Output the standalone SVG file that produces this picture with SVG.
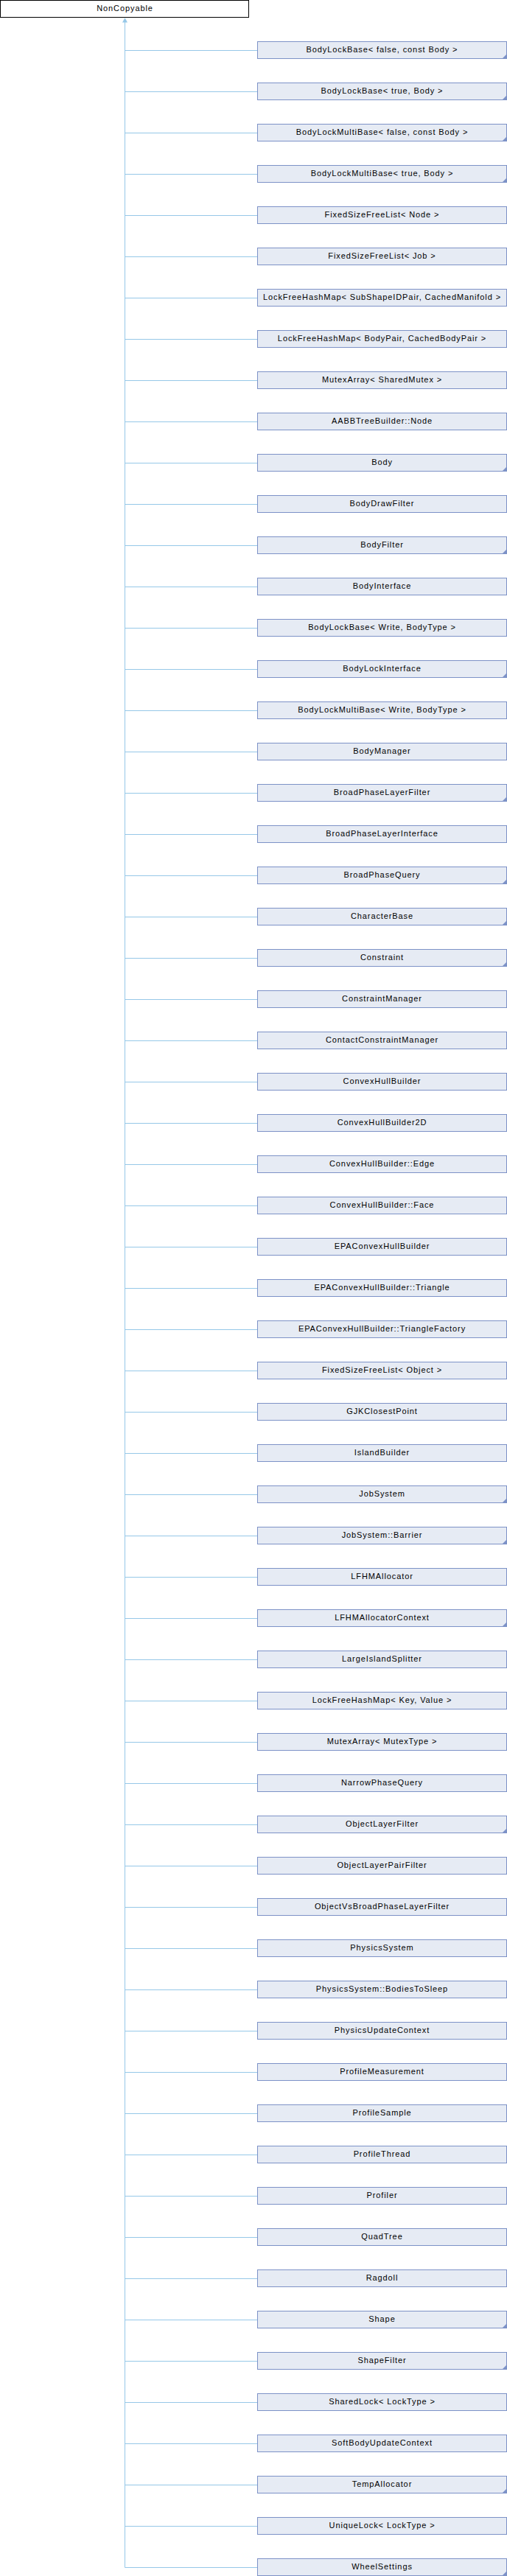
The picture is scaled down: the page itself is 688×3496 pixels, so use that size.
<svg xmlns="http://www.w3.org/2000/svg" width="688" height="3496" viewBox="0 0 688 3496">
<style>
text{font-family:"Liberation Sans",Arial,sans-serif;font-size:11px;letter-spacing:0.9px;fill:#000;text-anchor:middle}
.root{fill:#fff;stroke:#000;stroke-width:1}
.box{fill:#E6EBF4;stroke:#7D92C7;stroke-width:1}
.mark{fill:#7D92C7}
.conn{fill:none;stroke:#96C8E8;stroke-width:1}
.arr{fill:#96C8E8}
</style>
<g id="connectors">
<path class="conn" d="M169.5 30V3484.5M169.5 68.5H349M169.5 124.5H349M169.5 180.5H349M169.5 236.5H349M169.5 292.5H349M169.5 348.5H349M169.5 404.5H349M169.5 460.5H349M169.5 516.5H349M169.5 572.5H349M169.5 628.5H349M169.5 684.5H349M169.5 740.5H349M169.5 796.5H349M169.5 852.5H349M169.5 908.5H349M169.5 964.5H349M169.5 1020.5H349M169.5 1076.5H349M169.5 1132.5H349M169.5 1188.5H349M169.5 1244.5H349M169.5 1300.5H349M169.5 1356.5H349M169.5 1412.5H349M169.5 1468.5H349M169.5 1524.5H349M169.5 1580.5H349M169.5 1636.5H349M169.5 1692.5H349M169.5 1748.5H349M169.5 1804.5H349M169.5 1860.5H349M169.5 1916.5H349M169.5 1972.5H349M169.5 2028.5H349M169.5 2084.5H349M169.5 2140.5H349M169.5 2196.5H349M169.5 2252.5H349M169.5 2308.5H349M169.5 2364.5H349M169.5 2420.5H349M169.5 2476.5H349M169.5 2532.5H349M169.5 2588.5H349M169.5 2644.5H349M169.5 2700.5H349M169.5 2756.5H349M169.5 2812.5H349M169.5 2868.5H349M169.5 2924.5H349M169.5 2980.5H349M169.5 3036.5H349M169.5 3092.5H349M169.5 3148.5H349M169.5 3204.5H349M169.5 3260.5H349M169.5 3316.5H349M169.5 3372.5H349M169.5 3428.5H349M169.5 3484.5H349"/>
<polygon class="arr" points="169.5,24 166,30.5 173,30.5"/>
</g>
<g id="NonCopyable"><rect class="root" x="0.5" y="0.5" width="337" height="23"/><text x="169.5" y="15">NonCopyable</text></g>
<g id="n1" transform="translate(0,56)"><rect class="box" x="349.5" y="0.5" width="338" height="23"/><polygon class="mark" points="681.5,23.5 687.5,23.5 687.5,17.5"/><text x="518.5" y="15">BodyLockBase&lt; false, const Body &gt;</text></g>
<g id="n2" transform="translate(0,112)"><rect class="box" x="349.5" y="0.5" width="338" height="23"/><polygon class="mark" points="681.5,23.5 687.5,23.5 687.5,17.5"/><text x="518.5" y="15">BodyLockBase&lt; true, Body &gt;</text></g>
<g id="n3" transform="translate(0,168)"><rect class="box" x="349.5" y="0.5" width="338" height="23"/><polygon class="mark" points="681.5,23.5 687.5,23.5 687.5,17.5"/><text x="518.5" y="15">BodyLockMultiBase&lt; false, const Body &gt;</text></g>
<g id="n4" transform="translate(0,224)"><rect class="box" x="349.5" y="0.5" width="338" height="23"/><polygon class="mark" points="681.5,23.5 687.5,23.5 687.5,17.5"/><text x="518.5" y="15">BodyLockMultiBase&lt; true, Body &gt;</text></g>
<g id="n5" transform="translate(0,280)"><rect class="box" x="349.5" y="0.5" width="338" height="23"/><text x="518.5" y="15">FixedSizeFreeList&lt; Node &gt;</text></g>
<g id="n6" transform="translate(0,336)"><rect class="box" x="349.5" y="0.5" width="338" height="23"/><text x="518.5" y="15">FixedSizeFreeList&lt; Job &gt;</text></g>
<g id="n7" transform="translate(0,392)"><rect class="box" x="349.5" y="0.5" width="338" height="23"/><text x="518.5" y="15">LockFreeHashMap&lt; SubShapeIDPair, CachedManifold &gt;</text></g>
<g id="n8" transform="translate(0,448)"><rect class="box" x="349.5" y="0.5" width="338" height="23"/><text x="518.5" y="15">LockFreeHashMap&lt; BodyPair, CachedBodyPair &gt;</text></g>
<g id="n9" transform="translate(0,504)"><rect class="box" x="349.5" y="0.5" width="338" height="23"/><text x="518.5" y="15">MutexArray&lt; SharedMutex &gt;</text></g>
<g id="n10" transform="translate(0,560)"><rect class="box" x="349.5" y="0.5" width="338" height="23"/><text x="518.5" y="15">AABBTreeBuilder::Node</text></g>
<g id="n11" transform="translate(0,616)"><rect class="box" x="349.5" y="0.5" width="338" height="23"/><polygon class="mark" points="681.5,23.5 687.5,23.5 687.5,17.5"/><text x="518.5" y="15">Body</text></g>
<g id="n12" transform="translate(0,672)"><rect class="box" x="349.5" y="0.5" width="338" height="23"/><text x="518.5" y="15">BodyDrawFilter</text></g>
<g id="n13" transform="translate(0,728)"><rect class="box" x="349.5" y="0.5" width="338" height="23"/><polygon class="mark" points="681.5,23.5 687.5,23.5 687.5,17.5"/><text x="518.5" y="15">BodyFilter</text></g>
<g id="n14" transform="translate(0,784)"><rect class="box" x="349.5" y="0.5" width="338" height="23"/><text x="518.5" y="15">BodyInterface</text></g>
<g id="n15" transform="translate(0,840)"><rect class="box" x="349.5" y="0.5" width="338" height="23"/><text x="518.5" y="15">BodyLockBase&lt; Write, BodyType &gt;</text></g>
<g id="n16" transform="translate(0,896)"><rect class="box" x="349.5" y="0.5" width="338" height="23"/><polygon class="mark" points="681.5,23.5 687.5,23.5 687.5,17.5"/><text x="518.5" y="15">BodyLockInterface</text></g>
<g id="n17" transform="translate(0,952)"><rect class="box" x="349.5" y="0.5" width="338" height="23"/><text x="518.5" y="15">BodyLockMultiBase&lt; Write, BodyType &gt;</text></g>
<g id="n18" transform="translate(0,1008)"><rect class="box" x="349.5" y="0.5" width="338" height="23"/><text x="518.5" y="15">BodyManager</text></g>
<g id="n19" transform="translate(0,1064)"><rect class="box" x="349.5" y="0.5" width="338" height="23"/><polygon class="mark" points="681.5,23.5 687.5,23.5 687.5,17.5"/><text x="518.5" y="15">BroadPhaseLayerFilter</text></g>
<g id="n20" transform="translate(0,1120)"><rect class="box" x="349.5" y="0.5" width="338" height="23"/><text x="518.5" y="15">BroadPhaseLayerInterface</text></g>
<g id="n21" transform="translate(0,1176)"><rect class="box" x="349.5" y="0.5" width="338" height="23"/><polygon class="mark" points="681.5,23.5 687.5,23.5 687.5,17.5"/><text x="518.5" y="15">BroadPhaseQuery</text></g>
<g id="n22" transform="translate(0,1232)"><rect class="box" x="349.5" y="0.5" width="338" height="23"/><polygon class="mark" points="681.5,23.5 687.5,23.5 687.5,17.5"/><text x="518.5" y="15">CharacterBase</text></g>
<g id="n23" transform="translate(0,1288)"><rect class="box" x="349.5" y="0.5" width="338" height="23"/><polygon class="mark" points="681.5,23.5 687.5,23.5 687.5,17.5"/><text x="518.5" y="15">Constraint</text></g>
<g id="n24" transform="translate(0,1344)"><rect class="box" x="349.5" y="0.5" width="338" height="23"/><text x="518.5" y="15">ConstraintManager</text></g>
<g id="n25" transform="translate(0,1400)"><rect class="box" x="349.5" y="0.5" width="338" height="23"/><text x="518.5" y="15">ContactConstraintManager</text></g>
<g id="n26" transform="translate(0,1456)"><rect class="box" x="349.5" y="0.5" width="338" height="23"/><text x="518.5" y="15">ConvexHullBuilder</text></g>
<g id="n27" transform="translate(0,1512)"><rect class="box" x="349.5" y="0.5" width="338" height="23"/><text x="518.5" y="15">ConvexHullBuilder2D</text></g>
<g id="n28" transform="translate(0,1568)"><rect class="box" x="349.5" y="0.5" width="338" height="23"/><text x="518.5" y="15">ConvexHullBuilder::Edge</text></g>
<g id="n29" transform="translate(0,1624)"><rect class="box" x="349.5" y="0.5" width="338" height="23"/><text x="518.5" y="15">ConvexHullBuilder::Face</text></g>
<g id="n30" transform="translate(0,1680)"><rect class="box" x="349.5" y="0.5" width="338" height="23"/><text x="518.5" y="15">EPAConvexHullBuilder</text></g>
<g id="n31" transform="translate(0,1736)"><rect class="box" x="349.5" y="0.5" width="338" height="23"/><text x="518.5" y="15">EPAConvexHullBuilder::Triangle</text></g>
<g id="n32" transform="translate(0,1792)"><rect class="box" x="349.5" y="0.5" width="338" height="23"/><text x="518.5" y="15">EPAConvexHullBuilder::TriangleFactory</text></g>
<g id="n33" transform="translate(0,1848)"><rect class="box" x="349.5" y="0.5" width="338" height="23"/><text x="518.5" y="15">FixedSizeFreeList&lt; Object &gt;</text></g>
<g id="n34" transform="translate(0,1904)"><rect class="box" x="349.5" y="0.5" width="338" height="23"/><text x="518.5" y="15">GJKClosestPoint</text></g>
<g id="n35" transform="translate(0,1960)"><rect class="box" x="349.5" y="0.5" width="338" height="23"/><text x="518.5" y="15">IslandBuilder</text></g>
<g id="n36" transform="translate(0,2016)"><rect class="box" x="349.5" y="0.5" width="338" height="23"/><polygon class="mark" points="681.5,23.5 687.5,23.5 687.5,17.5"/><text x="518.5" y="15">JobSystem</text></g>
<g id="n37" transform="translate(0,2072)"><rect class="box" x="349.5" y="0.5" width="338" height="23"/><polygon class="mark" points="681.5,23.5 687.5,23.5 687.5,17.5"/><text x="518.5" y="15">JobSystem::Barrier</text></g>
<g id="n38" transform="translate(0,2128)"><rect class="box" x="349.5" y="0.5" width="338" height="23"/><text x="518.5" y="15">LFHMAllocator</text></g>
<g id="n39" transform="translate(0,2184)"><rect class="box" x="349.5" y="0.5" width="338" height="23"/><polygon class="mark" points="681.5,23.5 687.5,23.5 687.5,17.5"/><text x="518.5" y="15">LFHMAllocatorContext</text></g>
<g id="n40" transform="translate(0,2240)"><rect class="box" x="349.5" y="0.5" width="338" height="23"/><text x="518.5" y="15">LargeIslandSplitter</text></g>
<g id="n41" transform="translate(0,2296)"><rect class="box" x="349.5" y="0.5" width="338" height="23"/><text x="518.5" y="15">LockFreeHashMap&lt; Key, Value &gt;</text></g>
<g id="n42" transform="translate(0,2352)"><rect class="box" x="349.5" y="0.5" width="338" height="23"/><text x="518.5" y="15">MutexArray&lt; MutexType &gt;</text></g>
<g id="n43" transform="translate(0,2408)"><rect class="box" x="349.5" y="0.5" width="338" height="23"/><text x="518.5" y="15">NarrowPhaseQuery</text></g>
<g id="n44" transform="translate(0,2464)"><rect class="box" x="349.5" y="0.5" width="338" height="23"/><polygon class="mark" points="681.5,23.5 687.5,23.5 687.5,17.5"/><text x="518.5" y="15">ObjectLayerFilter</text></g>
<g id="n45" transform="translate(0,2520)"><rect class="box" x="349.5" y="0.5" width="338" height="23"/><text x="518.5" y="15">ObjectLayerPairFilter</text></g>
<g id="n46" transform="translate(0,2576)"><rect class="box" x="349.5" y="0.5" width="338" height="23"/><text x="518.5" y="15">ObjectVsBroadPhaseLayerFilter</text></g>
<g id="n47" transform="translate(0,2632)"><rect class="box" x="349.5" y="0.5" width="338" height="23"/><text x="518.5" y="15">PhysicsSystem</text></g>
<g id="n48" transform="translate(0,2688)"><rect class="box" x="349.5" y="0.5" width="338" height="23"/><text x="518.5" y="15">PhysicsSystem::BodiesToSleep</text></g>
<g id="n49" transform="translate(0,2744)"><rect class="box" x="349.5" y="0.5" width="338" height="23"/><text x="518.5" y="15">PhysicsUpdateContext</text></g>
<g id="n50" transform="translate(0,2800)"><rect class="box" x="349.5" y="0.5" width="338" height="23"/><text x="518.5" y="15">ProfileMeasurement</text></g>
<g id="n51" transform="translate(0,2856)"><rect class="box" x="349.5" y="0.5" width="338" height="23"/><text x="518.5" y="15">ProfileSample</text></g>
<g id="n52" transform="translate(0,2912)"><rect class="box" x="349.5" y="0.5" width="338" height="23"/><text x="518.5" y="15">ProfileThread</text></g>
<g id="n53" transform="translate(0,2968)"><rect class="box" x="349.5" y="0.5" width="338" height="23"/><text x="518.5" y="15">Profiler</text></g>
<g id="n54" transform="translate(0,3024)"><rect class="box" x="349.5" y="0.5" width="338" height="23"/><text x="518.5" y="15">QuadTree</text></g>
<g id="n55" transform="translate(0,3080)"><rect class="box" x="349.5" y="0.5" width="338" height="23"/><text x="518.5" y="15">Ragdoll</text></g>
<g id="n56" transform="translate(0,3136)"><rect class="box" x="349.5" y="0.5" width="338" height="23"/><polygon class="mark" points="681.5,23.5 687.5,23.5 687.5,17.5"/><text x="518.5" y="15">Shape</text></g>
<g id="n57" transform="translate(0,3192)"><rect class="box" x="349.5" y="0.5" width="338" height="23"/><polygon class="mark" points="681.5,23.5 687.5,23.5 687.5,17.5"/><text x="518.5" y="15">ShapeFilter</text></g>
<g id="n58" transform="translate(0,3248)"><rect class="box" x="349.5" y="0.5" width="338" height="23"/><text x="518.5" y="15">SharedLock&lt; LockType &gt;</text></g>
<g id="n59" transform="translate(0,3304)"><rect class="box" x="349.5" y="0.5" width="338" height="23"/><text x="518.5" y="15">SoftBodyUpdateContext</text></g>
<g id="n60" transform="translate(0,3360)"><rect class="box" x="349.5" y="0.5" width="338" height="23"/><polygon class="mark" points="681.5,23.5 687.5,23.5 687.5,17.5"/><text x="518.5" y="15">TempAllocator</text></g>
<g id="n61" transform="translate(0,3416)"><rect class="box" x="349.5" y="0.5" width="338" height="23"/><text x="518.5" y="15">UniqueLock&lt; LockType &gt;</text></g>
<g id="n62" transform="translate(0,3472)"><rect class="box" x="349.5" y="0.5" width="338" height="23"/><polygon class="mark" points="681.5,23.5 687.5,23.5 687.5,17.5"/><text x="518.5" y="15">WheelSettings</text></g>
</svg>
